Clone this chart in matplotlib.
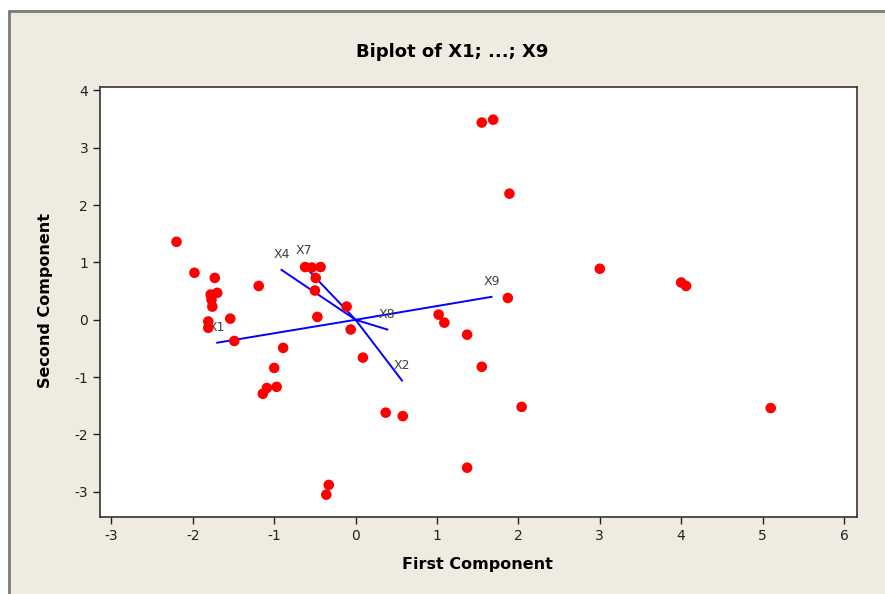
import matplotlib
matplotlib.use("Agg")
import matplotlib.pyplot as plt
from matplotlib.patches import Rectangle

plt.rcParams["axes.unicode_minus"] = False

# scores on the first two components
pc1 = [1.55, 1.69, 1.89, -2.20, -1.98, -1.73, -1.78, -1.70, -1.77, -1.76,
       -1.54, -1.81, -1.81, -1.49, -1.19, -0.89, -1.00, -0.97, -1.09, -1.14,
       -0.62, -0.54, -0.43, -0.49, -0.50, -0.47, -0.11, -0.06, 0.09, 0.37,
       0.58, -0.33, -0.36, 1.02, 1.09, 1.37, 1.55, 1.87, 2.04, 1.37,
       3.00, 4.00, 4.06, 5.10]
pc2 = [3.44, 3.49, 2.20, 1.36, 0.82, 0.73, 0.44, 0.47, 0.35, 0.23,
       0.02, -0.03, -0.14, -0.37, 0.59, -0.49, -0.84, -1.17, -1.19, -1.29,
       0.92, 0.91, 0.92, 0.73, 0.51, 0.05, 0.23, -0.17, -0.66, -1.62,
       -1.68, -2.88, -3.05, 0.09, -0.05, -0.26, -0.82, 0.38, -1.52, -2.58,
       0.89, 0.65, 0.59, -1.54]

# variable vectors
var_names = ["X1", "X2", "X4", "X7", "X8", "X9"]
load1 = [-1.70, 0.57, -0.91, -0.63, 0.39, 1.67]
load2 = [-0.40, -1.06, 0.87, 0.94, -0.17, 0.40]

xticks = [-3, -2, -1, 0, 1, 2, 3, 4, 5, 6]
yticks = [-3, -2, -1, 0, 1, 2, 3, 4]

bg = "#F0EBE1"
fig = plt.figure(figsize=(8.85, 5.94), dpi=100)
fig.patch.set_facecolor("white")
fig.add_artist(Rectangle((9 / 885, -0.05), 1.1, 1 - 11 / 594 + 0.05,
                         transform=fig.transFigure, facecolor=bg,
                         edgecolor="#7A7A7A", linewidth=2, zorder=-10))

ax = fig.add_axes([100 / 885, 1 - 517 / 594, 757 / 885, 430 / 594])
ax.set_facecolor("white")

for name, a, b in zip(var_names, load1, load2):
    ax.plot([0, a], [0, b], color="#0000FF", lw=1.4, zorder=2)
    ax.annotate(name, (a, b), xytext=(0, 11), textcoords="offset points",
                ha="center", va="center", fontsize=9, color="#404040")

ax.scatter(pc1, pc2, s=58, color="#FF0000", edgecolors="none", zorder=3)

ax.set_xlim(-3.14, 6.16)
ax.set_ylim(-3.44, 4.06)
ax.set_xticks(xticks)
ax.set_yticks(yticks)
ax.tick_params(direction="out", length=5, width=1, labelsize=10,
               colors="#222222")
for sp in ax.spines.values():
    sp.set_color("#333333")
    sp.set_linewidth(1.2)

fig.text(452 / 885, 1 - 52 / 594, "Biplot of X1; ...; X9", ha="center",
         va="center", fontsize=13, fontweight="bold")
fig.text(477 / 885, 1 - 564 / 594, "First Component", ha="center",
         va="center", fontsize=11.5, fontweight="bold")
fig.text(46 / 885, 1 - 300 / 594, "Second Component", ha="center",
         va="center", rotation=90, fontsize=11.5, fontweight="bold")

fig.savefig("out.png", dpi=100)
